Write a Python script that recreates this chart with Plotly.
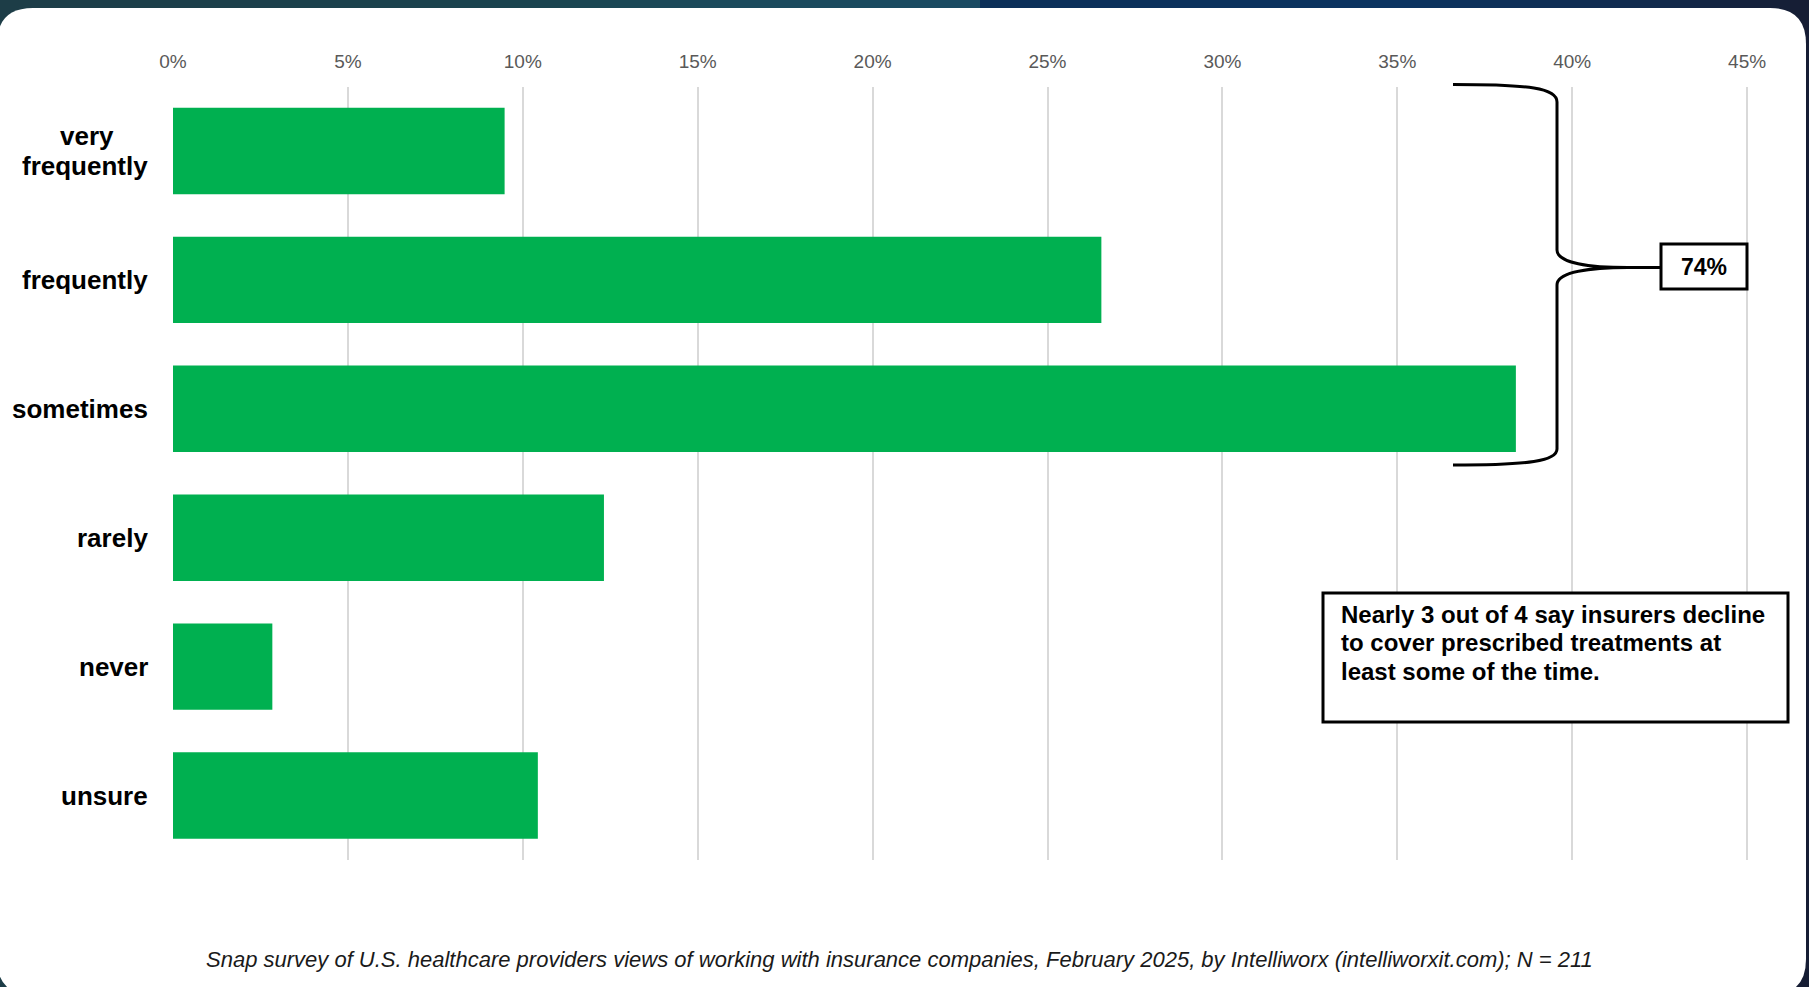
import plotly.graph_objects as go

# ---------------- data ----------------
categories = ["very frequently", "frequently", "sometimes", "rarely", "never", "unsure"]
category_labels = ["very<br>frequently", "frequently", "sometimes", "rarely", "never", "unsure"]
share_pct = [9.48, 26.54, 38.39, 12.32, 2.84, 10.43]
tick_values = [0, 5, 10, 15, 20, 25, 30, 35, 40, 45]
tick_labels = ["0%", "5%", "10%", "15%", "20%", "25%", "30%", "35%", "40%", "45%"]
bracket_label = "74%"
note_lines = [
    "Nearly 3 out of 4 say insurers decline",
    "to cover prescribed treatments at",
    "least some of the time.",
]
caption = ("Snap survey of U.S. healthcare providers views of working with insurance "
           "companies, February 2025, by Intelliworx (intelliworxit.com); N = 211")

# ---------------- geometry helpers ----------------
W, H = 1809, 987
FONT = "Arial, 'Liberation Sans', sans-serif"


def px(x):
    return x / W


def py(y):
    return 1 - y / H


X0_PX, PX_PER_PCT = 173.0, 34.98
X_MAX = 45.3
x_domain = [px(X0_PX), px(X0_PX + X_MAX * PX_PER_PCT)]
y_domain = [py(860), py(86.5)]

fig = go.Figure()
fig.add_trace(go.Bar(
    x=share_pct, y=categories, orientation="h",
    marker=dict(color="#00b050", line=dict(width=0)),
    width=0.67, hoverinfo="skip", showlegend=False,
))

shapes = []

# background gradient strips (dark frame)
stops = [
    (0, (0x1d, 0x3d, 0x47)),
    (550, (0x1a, 0x44, 0x4f)),
    (720, (0x1b, 0x4a, 0x5c)),
    (975, (0x1a, 0x4a, 0x62)),
    (985, (0x0b, 0x2f, 0x58)),
    (1400, (0x0b, 0x34, 0x61)),
    (1650, (0x11, 0x2a, 0x4d)),
    (1809, (0x16, 0x1d, 0x33)),
]


def color_at(x):
    for (xa, ca), (xb, cb) in zip(stops[:-1], stops[1:]):
        if xa <= x <= xb:
            t = 0 if xb == xa else (x - xa) / (xb - xa)
            c = [round(a + (b - a) * t) for a, b in zip(ca, cb)]
            return "rgb(%d,%d,%d)" % tuple(c)
    return "rgb(22,29,51)"


step = 10
for xs in range(0, W, step):
    shapes.append(dict(type="rect", xref="paper", yref="paper", layer="below",
                       x0=px(xs), x1=px(min(xs + step + 1, W)), y0=0, y1=1,
                       fillcolor=color_at(xs + step / 2), line=dict(width=0)))

# white rounded card
L, R, T, B, r = -3, 1806, 8, 995, 36
card = (f"M {px(L)},{py(T + r)} "
        f"Q {px(L)},{py(T)} {px(L + r)},{py(T)} "
        f"L {px(R - r)},{py(T)} "
        f"Q {px(R)},{py(T)} {px(R)},{py(T + r)} "
        f"L {px(R)},{py(B - r)} "
        f"Q {px(R)},{py(B)} {px(R - r)},{py(B)} "
        f"L {px(L + r)},{py(B)} "
        f"Q {px(L)},{py(B)} {px(L)},{py(B - r)} Z")
shapes.append(dict(type="path", xref="paper", yref="paper", layer="below",
                   path=card, fillcolor="white", line=dict(width=0)))

# curly brace
brace_pts = (
    f"M {px(1453)},{py(84.5)} "
    f"C {px(1530)},{py(84.5)} {px(1557)},{py(88)} {px(1557)},{py(102)} "
    f"L {px(1557)},{py(250)} "
    f"C {px(1557)},{py(263)} {px(1590)},{py(267.5)} {px(1628)},{py(267.5)} "
    f"L {px(1661)},{py(267.5)} "
    f"M {px(1628)},{py(267.5)} "
    f"C {px(1590)},{py(267.5)} {px(1557)},{py(272)} {px(1557)},{py(285)} "
    f"L {px(1557)},{py(449)} "
    f"C {px(1557)},{py(461)} {px(1530)},{py(465)} {px(1453)},{py(465)}"
)
shapes.append(dict(type="path", xref="paper", yref="paper", layer="above",
                   path=brace_pts, line=dict(color="black", width=3)))

# 74% box
shapes.append(dict(type="rect", xref="paper", yref="paper", layer="above",
                   x0=px(1661), x1=px(1747), y0=py(289), y1=py(244),
                   fillcolor="white", line=dict(color="black", width=3)))
# note box
shapes.append(dict(type="rect", xref="paper", yref="paper", layer="above",
                   x0=px(1323), x1=px(1788), y0=py(722), y1=py(593),
                   fillcolor="white", line=dict(color="black", width=3)))

annotations = []
LABEL_RIGHT = 150
LINE_GAP = 30
for cat, lab in zip(categories, category_labels):
    lines = lab.split("<br>")
    n = len(lines)
    if n == 1:
        annotations.append(dict(
            x=px(LABEL_RIGHT), xref="paper", y=cat, yref="y", xanchor="right",
            yanchor="middle", text=f"<b>{lab}</b>", showarrow=False,
            font=dict(family=FONT, size=26, color="black")))
    else:
        # centre each line over the longest one (bold 26px Arial ~0.5 em/char)
        longest = max(lines, key=len)
        for i, ln in enumerate(lines):
            shift = ((n - 1) / 2 - i) * LINE_GAP
            if ln == longest:
                annotations.append(dict(
                    x=px(LABEL_RIGHT), xref="paper", y=cat, yref="y", xanchor="right",
                    yanchor="middle", yshift=shift, text=f"<b>{ln}</b>", showarrow=False,
                    font=dict(family=FONT, size=26, color="black")))
            else:
                annotations.append(dict(
                    x=px(LABEL_RIGHT - 63), xref="paper", y=cat, yref="y", xanchor="center",
                    yanchor="middle", yshift=shift, text=f"<b>{ln}</b>", showarrow=False,
                    font=dict(family=FONT, size=26, color="black")))

annotations.append(dict(
    x=px(1704), y=py(266.5), xref="paper", yref="paper", xanchor="center", yanchor="middle",
    text=f"<b>{bracket_label}</b>", showarrow=False,
    font=dict(family=FONT, size=23, color="black")))

for i, line in enumerate(note_lines):
    annotations.append(dict(
        x=px(1339), y=py(614 + i * 28.5), xref="paper", yref="paper",
        xanchor="left", yanchor="middle", text=f"<b>{line}</b>", showarrow=False,
        font=dict(family=FONT, size=24, color="black")))

annotations.append(dict(
    x=px(899), y=py(959), xref="paper", yref="paper", xanchor="center", yanchor="middle",
    text=f"<i>{caption}</i>", showarrow=False,
    font=dict(family=FONT, size=22, color="#1a1a1a")))

fig.update_layout(
    template="none",
    width=W, height=H, autosize=False,
    margin=dict(l=0, r=0, t=0, b=0, pad=0, autoexpand=False),
    paper_bgcolor="#163a52", plot_bgcolor="rgba(0,0,0,0)",
    font=dict(family=FONT),
    bargap=0.33,
    shapes=shapes, annotations=annotations,
    xaxis=dict(
        domain=x_domain, range=[0, X_MAX], side="top", automargin=False,
        tickmode="array", tickvals=tick_values, ticktext=tick_labels,
        tickfont=dict(family=FONT, size=19, color="#595959"),
        showgrid=True, gridcolor="#d9d9d9", gridwidth=1.5,
        zeroline=False, showline=False,
        ticks="outside", ticklen=9.5, tickcolor="rgba(0,0,0,0)",
        fixedrange=True,
    ),
    yaxis=dict(
        domain=y_domain, type="category", automargin=False,
        categoryorder="array", categoryarray=categories,
        range=[5.5, -0.5], showticklabels=False, showgrid=False,
        zeroline=False, showline=False, ticks="", fixedrange=True,
    ),
)

post = ("document.body.style.margin='0';document.body.style.padding='0';"
        "document.documentElement.style.margin='0';"
        "document.documentElement.style.overflow='hidden';"
        "document.body.style.overflow='hidden';")
fig.write_html("out.html", include_plotlyjs=True,
               config={"displayModeBar": False, "responsive": False},
               post_script=post)
